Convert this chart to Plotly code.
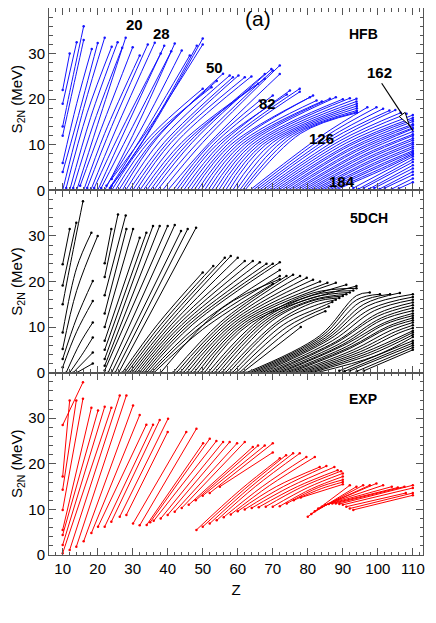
import plotly.graph_objects as go
from plotly.subplots import make_subplots

# each isotone chain: z0, s0, [zk, sk, ...] z1, s1  (S2N in MeV vs Z)

# ---------------- HFB ----------------
hfb_light = [
    (10, 22, 12, 30), (10, 19, 14, 32.5), (10, 14, 12, 21.5, 16, 36),
    (10, 12, 14, 26, 16, 33), (10, 6, 14, 19, 18.3, 31), (10, 4, 14, 15, 20, 32.3),
    (10, 0, 16, 18, 22, 33.5), (11, 0.5, 17, 17, 24, 31.5), (12, 0, 18, 16, 25.7, 32.5),
    (13, 0.5, 19, 15, 27, 31.3), (14, 0, 20, 14.5, 28, 33.5), (15, 1, 21, 13.5, 30, 31.4),
    (16, 0, 22, 12.5, 32, 29.6), (17, 0.5, 24, 14, 34.3, 32), (18, 0, 25, 13, 36.3, 32.4),
    (19, 0.5, 26, 12, 38, 30), (20, 0, 28, 13.5, 39, 31.7), (21, 0.5, 29, 12.5, 41, 30.5),
    (22, 0, 30, 12, 42, 32.2), (22.5, 1, 31, 11.5, 44, 30.7), (23, 0, 32, 11, 46.3, 29.6),
    (23.5, 0.5, 33, 11, 48.3, 31.7), (24, 1, 34, 12, 50, 33.3), (24, 2.5, 35, 14, 50, 32),
]
hfb_n50_82 = [
    (24, 0, 34, 11, 50, 22.3), (25, 0, 35, 11, 52.5, 22.6), (26, 0, 36, 11, 54, 24),
    (27, 0, 37, 11.5, 55.8, 25.6), (28, 0, 38, 11, 57.7, 25.2), (29, 0, 39, 10.5, 58.6, 24.8),
    (30, 0, 40, 10.5, 60.2, 25.2), (31, 0, 41, 10.5, 62, 24.8), (32, 0, 43, 11, 63.9, 25),
    (33, 0, 44, 10.5, 65.8, 23.4), (34, 0, 45, 10.5, 67.7, 24.5), (35, 0, 46, 10.5, 67.7, 25.5),
    (36, 0, 47, 10.5, 69.6, 26.6), (37, 0, 48, 10, 70, 26.3), (38.5, 0, 50, 10.5, 72, 27.4),
    (40, 0, 52, 10.5, 72, 25.5),
]
hfb_n82_126 = [
    (41.5, 0, 52, 10, 66.3, 19.7), (42.5, 0, 53, 10, 70, 20.8), (43.5, 0, 54, 10, 74, 21),
    (44.5, 0, 55, 10, 74.9, 21.9), (45.5, 0, 56, 10, 77.7, 22.3), (46.5, 0, 57, 10, 77.7, 21.6),
    (47.5, 0, 58, 10, 80.6, 20.4), (48.5, 0, 59, 10, 81.5, 20.8), (49.5, 0, 60, 10, 82.5, 19.7),
    (50.5, 0, 61, 10, 84, 19.5), (51.5, 0, 62, 10, 86.3, 20.1), (52.5, 0, 63, 10, 88, 20.4),
    (53.5, 0, 64, 10, 90, 20), (54.5, 0, 65, 10, 92, 20.2), (55.5, 0, 66, 10, 93.9, 20.1),
    (56.5, 0, 67, 10, 93.9, 19.5), (57.5, 0, 68, 10, 94, 19), (58.5, 0, 70, 10.5, 94, 18.5),
    (59.5, 0, 72, 11, 94, 18), (60.5, 0, 74, 11.5, 94, 17.5), (61.3, 0, 76, 12, 94, 17.2),
    (62, 0, 78, 12.5, 94, 17),
]
hfb_n126_184 = [
    (63.4, 0, 84, 12, 97, 18.2), (64.3, 0, 85, 11.8, 99.6, 18.2), (65.2, 0, 86, 11.5, 101.5, 17.9),
    (66.1, 0, 87, 11.3, 103.3, 17.5), (67, 0, 88, 11, 105, 17.6), (67.9, 0, 89, 10.8, 106.5, 17),
    (68.8, 0, 90, 10.6, 108.2, 16.8), (69.7, 0, 91, 10.4, 110, 16.5), (70.6, 0, 92, 10.2, 110, 15.9),
    (71.5, 0, 92, 9.8, 110, 15.5), (72.4, 0, 93, 9.6, 110, 15.1), (73.3, 0, 93, 9.2, 110, 14.5),
    (74.2, 0, 94, 9, 110, 14.2), (75.1, 0, 94, 8.6, 110, 13.7), (76, 0, 95, 8.4, 110, 13.5),
    (76.9, 0, 95, 8, 110, 12.9), (77.8, 0, 96, 7.8, 110, 12.3), (78.7, 0, 96, 7.4, 110, 12),
    (79.6, 0, 97, 7.2, 110, 11.4), (80.5, 0, 97, 6.8, 110, 11), (81.4, 0, 98, 6.6, 110, 10.5),
    (82.3, 0, 98, 6.2, 110, 10.1), (83.2, 0, 99, 6, 110, 9.6), (84.1, 0, 99, 5.6, 110, 9.2),
    (85, 0, 100, 5.4, 110, 8.7), (85.9, 0, 100, 5, 110, 8.4), (86.8, 0, 101, 4.8, 110, 8.1),
    (87.7, 0, 101, 4.4, 110, 7.8),
]
hfb_n184 = [
    (93, 0.5, 110, 7.4), (94.5, 0.3, 110, 6.8), (96, 0.5, 110, 6.2), (97.5, 0.3, 110, 5.5),
    (99, 0.5, 110, 4.8), (100.5, 0.3, 110, 4.1), (102, 0.5, 110, 3.4), (104, 0.3, 110, 2.6),
    (106, 0.4, 110, 1.8),
]

# ---------------- 5DCH ----------------
dch_light = [
    (10, 23.8, 12, 31.5), (10, 19.1, 13.9, 32.9), (10, 15, 12, 23, 15.8, 37.6),
    (10, 8.8, 14, 23, 18.2, 30.7), (10, 5.2, 14, 18, 20, 30), (10, 3, 14, 12, 18.6, 20.1),
    (10, 1.2, 14, 9, 18.6, 15.7), (11, 0, 15, 6.5, 18.6, 11), (12, 0, 16, 4.5, 18.6, 7.7),
    (13, 0, 18.6, 4.4), (14, 0, 18.6, 2),
]
dch_n20_50 = [
    (22, 24, 23.9, 31.5), (22, 21, 25.8, 34.7), (22, 17, 28, 34.5), (22, 13, 28.2, 31.5),
    (22, 10, 30.1, 31.5), (22, 7, 32, 29.6), (22, 5, 33.9, 30.7), (22, 3, 35.8, 32.2),
    (22, 1.5, 37.7, 32.2), (22, 0.5, 40, 32.2), (23, 0, 42, 32.4), (24, 0, 43.8, 31.1),
    (25, 0, 45.7, 31.5), (26, 0, 48.1, 31.8),
]
dch_n50_82 = [
    (27, 0, 37, 10.5, 50, 22), (27.7, 0, 38, 10.5, 53, 23.4), (28.4, 0, 39, 10.5, 56.3, 25.2),
    (29.1, 0, 40, 10.5, 58, 25.6), (29.8, 0, 41, 10.5, 60, 25.2), (30.5, 0, 42, 10.5, 62, 24.5),
    (31.2, 0, 43, 10.5, 64.3, 24.5), (31.9, 0, 44, 10.5, 66.3, 24.2), (32.6, 0, 45, 10.5, 68.2, 23.9),
    (33.3, 0, 46, 10.5, 70, 23.9), (34, 0, 47, 10.5, 72, 24.2), (34.7, 0, 48, 10, 72, 22.5),
    (35.4, 0, 49, 9.8, 72, 21.2), (36.1, 0, 50, 9.5, 70, 19.5), (38, 0, 55.8, 14.3, 72, 20.5),
]
dch_n82_126 = [
    (41.5, 0, 55, 11, 73.9, 21.2), (42.5, 0, 56, 11, 75.8, 21.5), (43.5, 0, 57, 11, 77.8, 21.2),
    (44.5, 0, 58, 11, 79.7, 20.8), (45.5, 0, 59, 11, 81.5, 20.4), (46.5, 0, 60, 11, 83.5, 20),
    (47.5, 0, 61, 11, 85.6, 19.7), (48.5, 0, 62, 11, 88, 19.7), (49.5, 0, 63, 11, 91, 19.3),
    (50.5, 0, 64, 11, 93.9, 19), (51.5, 0, 66, 11.5, 81.5, 17.5, 93.9, 18.5),
    (52.5, 0, 67, 11.5, 81.5, 17, 93, 18), (53.5, 0, 68, 11.5, 81.5, 16.5, 92, 17.6),
    (54.5, 0, 69, 11.5, 81.5, 16, 91, 17.2), (55.5, 0, 70, 11.5, 81.5, 15.8, 90, 16.8),
    (56.5, 0, 71, 11, 82, 15.5, 89, 16.4), (57.5, 0, 72, 11, 83, 15, 88, 16),
    (58.5, 0, 73, 10.5, 84, 14.5, 87, 15.5), (59.5, 0, 74, 10, 86, 14.5),
    (60.5, 0, 76, 10, 85, 13.5), (61.3, 0, 78, 10),
]
dch_n126_184 = [
    (62.4, 0, 83.4, 8.1, 93.9, 16.9, 97.7, 17.6), (63.3, 0, 84, 8, 94, 16, 100.6, 17.2),
    (64.2, 0, 84.5, 7.8, 95, 15.5, 103.5, 17.2), (65.1, 0, 85, 7.6, 96, 15, 106.3, 17.5),
    (66, 0, 85.5, 7.4, 97, 14.6, 110, 17.2), (66.9, 0, 86, 7.2, 98, 14, 110, 16.6),
    (67.8, 0, 87, 7, 99, 13.6, 110, 16), (68.7, 0, 88, 6.8, 100, 13, 110, 15.4),
    (69.6, 0, 88, 6.5, 100, 12.4, 110, 14.8), (70.5, 0, 89, 6.3, 101, 12, 110, 14.2),
    (71.4, 0, 90, 6.2, 101, 11.5, 110, 13.6), (72.3, 0, 90, 5.9, 102, 11, 110, 13),
    (73.2, 0, 91, 5.7, 102, 10.6, 110, 12.5), (74.1, 0, 92, 5.6, 103, 10.2, 110, 12),
    (75, 0, 92, 5.3, 103, 9.8, 110, 11.5), (76, 0, 93, 5, 104, 9.4, 110, 11),
    (77, 0, 94, 4.8, 105, 9, 110, 10.4), (78, 0, 95, 4.6, 106, 8.7, 110, 9.8),
    (79, 0, 96, 4.4, 110, 9.2), (80, 0, 97, 4.2, 110, 8.8), (81, 0, 98, 4, 110, 8.3),
    (82.5, 0, 99, 3.6, 110, 7.8),
]
dch_n184 = [
    (89, 0.4, 110, 7), (90.5, 0.3, 110, 6.5), (92, 0.4, 110, 6), (94, 0.3, 110, 5.5),
    (96, 0.4, 110, 5),
]

# ---------------- EXP ----------------
exp_light = [
    (10, 28.5, 15.8, 37.9), (10, 17.2, 12, 33.9), (10, 14.3, 13.9, 33.9), (10, 9.9, 15.8, 34.3),
    (10, 5.5, 18.2, 32.3), (10, 4.4, 20.1, 31.7), (10, 2.2, 22, 32.5), (10, 0.4, 23.9, 32.3),
    (12, 1.1, 26.3, 35), (13.9, 1.8, 28.2, 35), (16, 3, 30.1, 32.8), (18.2, 4.8, 32, 30.7),
    (20.1, 6.2, 33.9, 28.6), (22, 6.2, 35.8, 28.6), (23.9, 7.3, 37.7, 29.6),
    (26.3, 8.4, 40.1, 29.9), (28.2, 8.8, 40, 27),
]
exp_n50_82 = [
    (30.1, 6.9, 45.3, 27), (32, 6.5, 48.2, 27.7), (34, 6.6, 50.1, 24.5), (35, 7.2, 52, 25.5),
    (36, 7.5, 53.9, 25), (38, 8, 55.8, 24.8), (40, 8.8, 57.7, 24.8), (42, 9.5, 59.8, 24.5),
    (44, 10.3, 62, 24.8), (46, 11, 64.3, 23.7), (48, 12, 65.8, 24), (50, 13, 67.7, 24),
    (52, 13.6, 70, 24.5), (54.9, 15, 70, 22.5),
]
exp_n82_126 = [
    (48.2, 5.5, 60.6, 14.2, 72, 21.2), (50, 6.2, 62, 14.5, 73.8, 21.9),
    (52, 6.9, 63.5, 14.8, 75.8, 22.3), (54, 7.6, 65, 15, 77.7, 22.3),
    (56, 8.3, 67, 15, 79.6, 21.5), (58, 8.9, 69, 15.2, 82, 21.5),
    (60, 9.6, 71, 15, 83.4, 19.3), (62, 10, 73, 15, 85.3, 19.5),
    (64, 10.3, 75, 15, 87.6, 19.3), (66, 10.5, 77, 15, 88.5, 18.6),
    (68, 10.6, 78, 14.8, 89.5, 18.4), (70, 10.6, 80, 14.8, 90, 17.9),
    (72, 10.7, 81, 14.5, 90, 17.2), (74, 11.3, 83, 14.8, 90, 16.5),
    (76, 12, 84, 14.6, 90, 16), (78, 12.6, 90, 15.5),
]
exp_n126 = [
    (80, 8.4, 92, 15.3), (81, 9, 93.9, 15), (82, 9.6, 95.8, 15.3), (83, 10.2, 97.7, 15.3),
    (84, 10.6, 99.6, 15.7), (85, 11, 101.5, 15.3), (86, 11.2, 104, 15), (87, 11.3, 105.7, 14.8),
    (88, 11.3, 107.6, 15), (89, 11.2, 110, 15.3), (90, 11, 110, 14.7), (91, 10.6, 108, 13.6),
    (92, 10.2, 110, 13.6), (93, 9.9, 110, 13.1),
]

panels = [
    ("rgb(20,20,255)", [hfb_light, hfb_n50_82, hfb_n82_126, hfb_n126_184, hfb_n184]),
    ("black", [dch_light, dch_n20_50, dch_n50_82, dch_n82_126, dch_n126_184, dch_n184]),
    ("rgb(255,0,0)", [exp_light, exp_n50_82, exp_n82_126, exp_n126]),
]

# text labels: text, Z, S2N, panel row, size, bold
labels = [
    ("(a)", 65.7, 37.6, 1, 21, False), ("HFB", 96, 34.2, 1, 14, True),
    ("20", 30.4, 36.3, 1, 15, True), ("28", 38.3, 34.4, 1, 15, True),
    ("50", 53.4, 26.9, 1, 15, True), ("82", 68.6, 19.0, 1, 15, True),
    ("126", 84, 11.4, 1, 15, True), ("184", 89.7, 1.9, 1, 15, True),
    ("162", 100.6, 25.8, 1, 15, True),
    ("5DCH", 97.4, 33.9, 2, 14, True), ("EXP", 95.7, 34.2, 3, 14, True),
]


def flatten(chains):
    xs, ys = [], []
    for c in chains:
        xs += list(c[0::2]) + [None]
        ys += list(c[1::2]) + [None]
    return xs, ys


def ends(chains):
    xs, ys = [], []
    for c in chains:
        xs += [c[0], c[-2]]
        ys += [c[1], c[-1]]
    return xs, ys


fig = make_subplots(rows=3, cols=1, shared_xaxes=True, vertical_spacing=0)

for row, (color, groups) in enumerate(panels, start=1):
    for chains in groups:
        xs, ys = flatten(chains)
        fig.add_trace(go.Scatter(x=xs, y=ys, mode="lines",
                                 line=dict(color=color, width=1, shape="spline", smoothing=1),
                                 showlegend=False, hoverinfo="skip"),
                      row=row, col=1)
        ex, ey = ends(chains)
        fig.add_trace(go.Scatter(x=ex, y=ey, mode="markers",
                                 marker=dict(color=color, size=2.5),
                                 showlegend=False, hoverinfo="skip"),
                      row=row, col=1)

axis_col = "#555555"
font = dict(family="Liberation Sans, Arial, sans-serif", size=15, color="black")

for row in (1, 2, 3):
    fig.update_yaxes(range=[0, 40], tickmode="array", tickvals=[0, 10, 20, 30],
                     ticks="inside", ticklen=7, tickcolor=axis_col, tickwidth=1,
                     minor=dict(tickmode="linear", tick0=0, dtick=2, ticks="inside",
                                ticklen=3.5, tickcolor=axis_col),
                     showline=True, linecolor=axis_col, linewidth=1, mirror="ticks",
                     showgrid=False, zeroline=False, tickfont=font, automargin=False,
                     title=dict(text="S<sub>2N</sub> (MeV)", font=font, standoff=2),
                     row=row, col=1)
    fig.update_xaxes(range=[6.1, 112.9], tickmode="array", tickvals=list(range(10, 111, 10)),
                     ticks="inside", ticklen=7, tickcolor=axis_col, tickwidth=1,
                     minor=dict(tickmode="linear", tick0=0, dtick=2, ticks="inside",
                                ticklen=3.5, tickcolor=axis_col),
                     showline=True, linecolor=axis_col, linewidth=1, mirror="ticks",
                     showgrid=False, zeroline=False, tickfont=font, automargin=False,
                     row=row, col=1)

fig.update_xaxes(title=dict(text="Z", font=font, standoff=8), row=3, col=1)

yrefs = {1: "y", 2: "y2", 3: "y3"}
xrefs = {1: "x", 2: "x2", 3: "x3"}
for text, z, s, row, size, bold in labels:
    fig.add_annotation(x=z, y=s, xref=xrefs[row], yref=yrefs[row], showarrow=False,
                       text="<b>%s</b>" % text if bold else text,
                       font=dict(family="Liberation Sans, Arial, sans-serif", size=size,
                                 color="black"))

# pointer to the N=162 chain: a line with an open triangular head
fig.add_shape(type="line", xref="x", yref="y", x0=101.1, y0=23.5, x1=110, y1=13.1,
              line=dict(color="black", width=1.2), layer="above")
fig.add_shape(type="path", xref="x", yref="y",
              path="M 108.9 14.4 L 107.8 17.1 L 106.1 16.2 Z",
              line=dict(color="black", width=1), fillcolor="white", layer="above")

# page body adds an 8 px offset, so the figure is 8 px smaller each way
fig.update_layout(width=428, height=615, margin=dict(l=41, r=13, t=0, b=68),
                  plot_bgcolor="white", paper_bgcolor="white", font=font)

fig.write_html("out.html")
